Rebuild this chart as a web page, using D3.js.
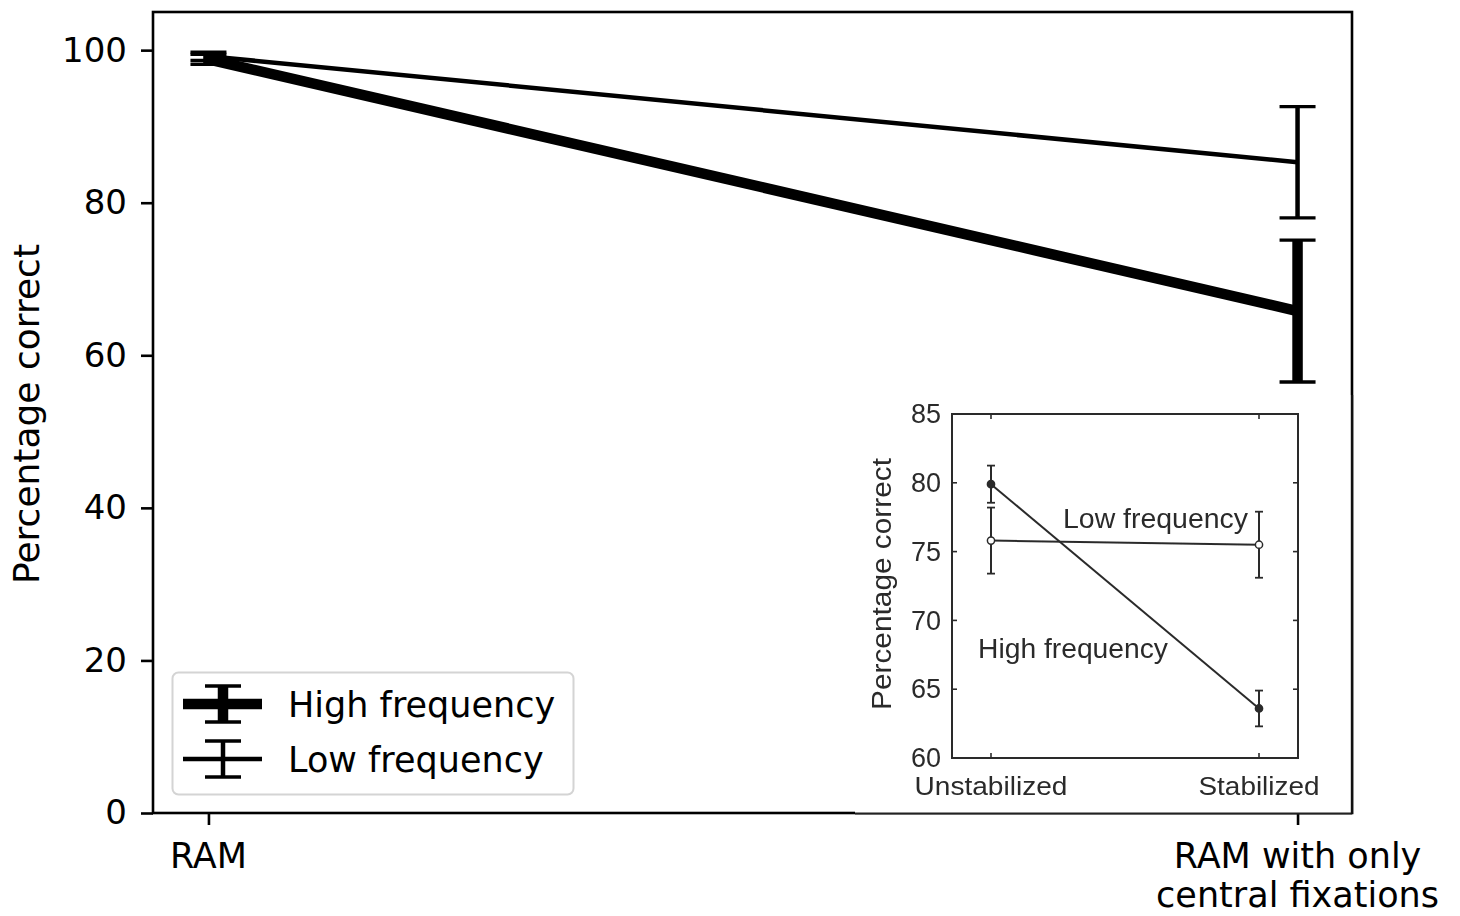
<!DOCTYPE html>
<html>
<head>
<meta charset="utf-8">
<script src="https://cdn.jsdelivr.net/npm/d3@7"></script>
<style>
  html, body { margin: 0; padding: 0; background: #fff; }
  svg { display: block; }
</style>
</head>
<body>
<svg id="chart" width="1460" height="916"></svg>
<script>
// Main panel: two conditions, two spatial-frequency series
const categories = ["RAM", "RAM with only\ncentral fixations"];
const highFreq = [98.8, 65.8];
const highFreqErr = [0.65, 9.3];
const lowFreq = [99.2, 85.3];
const lowFreqErr = [0.55, 7.3];
const yTicks = [0, 20, 40, 60, 80, 100];

// Inset panel: stabilized vs. unstabilized viewing
const insetCategories = ["Unstabilized", "Stabilized"];
const insetHigh = [79.9, 63.6];
const insetHighErr = [1.35, 1.3];
const insetLow = [75.8, 75.5];
const insetLowErr = [2.4, 2.4];
const insetTicks = [60, 65, 70, 75, 80, 85];

const svg = d3.select("#chart");
const FONT = "DejaVu Sans, sans-serif";

const box = { left: 153, top: 12, right: 1352, bottom: 813 };
const x = d3.scalePoint().domain(categories).range([154, 1352]).padding(0.05);
const y = d3.scaleLinear().domain([0, 105]).range([box.bottom, box.top]);

const series = [
  { name: "High frequency", values: highFreq, errs: highFreqErr, width: 10.5 },
  { name: "Low frequency", values: lowFreq, errs: lowFreqErr, width: 4.5 }
];
const capHalf = 18, capThick = 3.3;

const plot = svg.append("g");

// lines
const line = d3.line().x((d, i) => x(categories[i])).y(d => y(d));
series.forEach(s => {
  plot.append("path").datum(s.values)
    .attr("d", line).attr("fill", "none")
    .attr("stroke", "#000").attr("stroke-width", s.width);
});

// error bars
series.forEach(s => {
  const g = plot.append("g");
  s.values.forEach((v, i) => {
    const cx = x(categories[i]);
    const lo = y(v - s.errs[i]), hi = y(v + s.errs[i]);
    g.append("line").attr("x1", cx).attr("x2", cx).attr("y1", lo).attr("y2", hi)
      .attr("stroke", "#000").attr("stroke-width", s.width);
    [lo, hi].forEach(yy => {
      g.append("line").attr("x1", cx - capHalf).attr("x2", cx + capHalf)
        .attr("y1", yy).attr("y2", yy)
        .attr("stroke", "#000").attr("stroke-width", capThick);
    });
  });
});

// frame
svg.append("rect")
  .attr("x", box.left).attr("y", box.top)
  .attr("width", box.right - box.left).attr("height", box.bottom - box.top)
  .attr("fill", "none").attr("stroke", "#000").attr("stroke-width", 2.6);

// y axis
const yAxis = svg.append("g").attr("transform", `translate(${box.left},0)`)
  .call(d3.axisLeft(y).tickValues(yTicks).tickSize(12).tickPadding(14));
yAxis.select(".domain").remove();
yAxis.selectAll(".tick line").attr("stroke", "#000").attr("stroke-width", 2.6);
yAxis.selectAll(".tick text").attr("font-family", FONT).attr("font-size", 34)
  .attr("fill", "#000");

// x axis
const xAxis = svg.append("g").attr("transform", `translate(0,${box.bottom})`)
  .call(d3.axisBottom(x).tickSize(12).tickFormat(""));
xAxis.select(".domain").remove();
xAxis.selectAll(".tick line").attr("stroke", "#000").attr("stroke-width", 2.6);
categories.forEach(c => {
  const lines = c.split("\n");
  const t = svg.append("text").attr("text-anchor", "middle")
    .attr("font-family", FONT).attr("font-size", 35).attr("fill", "#000");
  lines.forEach((ln, k) => {
    t.append("tspan").attr("x", x(c)).attr("y", 868 + k * 39).text(ln);
  });
});

// y label
svg.append("text")
  .attr("transform", "translate(39,414) rotate(-90)")
  .attr("text-anchor", "middle")
  .attr("font-family", FONT).attr("font-size", 36).attr("fill", "#000")
  .text("Percentage correct");

// legend
const leg = svg.append("g");
leg.append("rect").attr("x", 172.5).attr("y", 672.5).attr("width", 401).attr("height", 122)
  .attr("rx", 6).attr("fill", "#fff").attr("fill-opacity", 0.8)
  .attr("stroke", "#d4d4d4").attr("stroke-width", 2);
series.forEach((s, k) => {
  const cy = k === 0 ? 704 : 759;
  const hx = 223;
  const g = leg.append("g");
  g.append("line").attr("x1", 183).attr("x2", 262).attr("y1", cy).attr("y2", cy)
    .attr("stroke", "#000").attr("stroke-width", s.width);
  g.append("line").attr("x1", hx).attr("x2", hx).attr("y1", cy - 18).attr("y2", cy + 18)
    .attr("stroke", "#000").attr("stroke-width", s.width);
  [cy - 18, cy + 18].forEach(yy => {
    g.append("line").attr("x1", hx - 18).attr("x2", hx + 18).attr("y1", yy).attr("y2", yy)
      .attr("stroke", "#000").attr("stroke-width", capThick);
  });
  g.append("text").attr("x", 288).attr("y", cy + 13)
    .attr("font-family", FONT).attr("font-size", 35).attr("fill", "#000")
    .text(s.name);
});

// ---- inset ----
const defs = svg.append("defs");
defs.append("filter").attr("id", "soft")
  .append("feGaussianBlur").attr("stdDeviation", 0.45);

const inset = svg.append("g");
inset.append("rect").attr("x", 855).attr("y", 395).attr("width", 496).attr("height", 419)
  .attr("fill", "#fff");
inset.append("line").attr("x1", 855).attr("x2", 1352).attr("y1", 813.5).attr("y2", 813.5)
  .attr("stroke", "#222").attr("stroke-width", 1.8);
inset.append("line").attr("x1", 1352).attr("x2", 1352).attr("y1", 395).attr("y2", 814)
  .attr("stroke", "#111").attr("stroke-width", 2.4);

const ib = { left: 952, top: 414, right: 1298, bottom: 758 };
const ix = d3.scalePoint().domain(insetCategories).range([ib.left, ib.right]).padding(0.1455);
const iy = d3.scaleLinear().domain([60, 85]).range([ib.bottom, ib.top]);
const INK = "#2b2b2b";
const IFONT = "Liberation Sans, Arial, sans-serif";

const ig = inset.append("g").attr("filter", "url(#soft)");

ig.append("rect").attr("x", ib.left).attr("y", ib.top)
  .attr("width", ib.right - ib.left).attr("height", ib.bottom - ib.top)
  .attr("fill", "none").attr("stroke", INK).attr("stroke-width", 2);

// inward ticks on all four sides
insetTicks.forEach(v => {
  ig.append("line").attr("x1", ib.left).attr("x2", ib.left + 5).attr("y1", iy(v)).attr("y2", iy(v))
    .attr("stroke", INK).attr("stroke-width", 1.6);
  ig.append("line").attr("x1", ib.right - 5).attr("x2", ib.right).attr("y1", iy(v)).attr("y2", iy(v))
    .attr("stroke", INK).attr("stroke-width", 1.6);
  ig.append("text").attr("x", 941).attr("y", iy(v)).attr("dy", "0.34em")
    .attr("text-anchor", "end").attr("font-family", IFONT).attr("font-size", 27)
    .attr("fill", INK).text(v);
});
insetCategories.forEach(c => {
  ig.append("line").attr("x1", ix(c)).attr("x2", ix(c)).attr("y1", ib.bottom).attr("y2", ib.bottom - 5)
    .attr("stroke", INK).attr("stroke-width", 1.6);
  ig.append("line").attr("x1", ix(c)).attr("x2", ix(c)).attr("y1", ib.top).attr("y2", ib.top + 5)
    .attr("stroke", INK).attr("stroke-width", 1.6);
});
ig.append("text").attr("x", ix("Unstabilized")).attr("y", 795)
  .attr("text-anchor", "middle").attr("font-family", IFONT).attr("font-size", 26)
  .attr("textLength", 153).attr("lengthAdjust", "spacingAndGlyphs")
  .attr("fill", INK).text("Unstabilized");
ig.append("text").attr("x", ix("Stabilized")).attr("y", 795)
  .attr("text-anchor", "middle").attr("font-family", IFONT).attr("font-size", 26)
  .attr("textLength", 121).attr("lengthAdjust", "spacingAndGlyphs")
  .attr("fill", INK).text("Stabilized");
ig.append("text").attr("transform", "translate(891,584) rotate(-90)")
  .attr("text-anchor", "middle").attr("font-family", IFONT).attr("font-size", 27)
  .attr("textLength", 252).attr("lengthAdjust", "spacingAndGlyphs")
  .attr("fill", INK).text("Percentage correct");

const insetSeries = [
  { name: "High frequency", values: insetHigh, errs: insetHighErr, filled: true,
    lx: 978, ly: 658, lw: 190 },
  { name: "Low frequency", values: insetLow, errs: insetLowErr, filled: false,
    lx: 1063, ly: 528, lw: 185 }
];
const iline = d3.line().x((d, i) => ix(insetCategories[i])).y(d => iy(d));
insetSeries.forEach(s => {
  ig.append("path").datum(s.values).attr("d", iline).attr("fill", "none")
    .attr("stroke", INK).attr("stroke-width", 2);
  s.values.forEach((v, i) => {
    const cx = ix(insetCategories[i]);
    const lo = iy(v - s.errs[i]), hi = iy(v + s.errs[i]);
    ig.append("line").attr("x1", cx).attr("x2", cx).attr("y1", lo).attr("y2", hi)
      .attr("stroke", INK).attr("stroke-width", 2);
    [lo, hi].forEach(yy => {
      ig.append("line").attr("x1", cx - 4).attr("x2", cx + 4).attr("y1", yy).attr("y2", yy)
        .attr("stroke", INK).attr("stroke-width", 1.8);
    });
    ig.append("circle").attr("cx", cx).attr("cy", iy(v)).attr("r", 3.6)
      .attr("fill", s.filled ? INK : "#fff").attr("stroke", INK).attr("stroke-width", 1.5);
  });
  ig.append("text").attr("x", s.lx).attr("y", s.ly)
    .attr("font-family", IFONT).attr("font-size", 27)
    .attr("textLength", s.lw).attr("lengthAdjust", "spacingAndGlyphs")
    .attr("fill", INK).text(s.name);
});
</script>
</body>
</html>
